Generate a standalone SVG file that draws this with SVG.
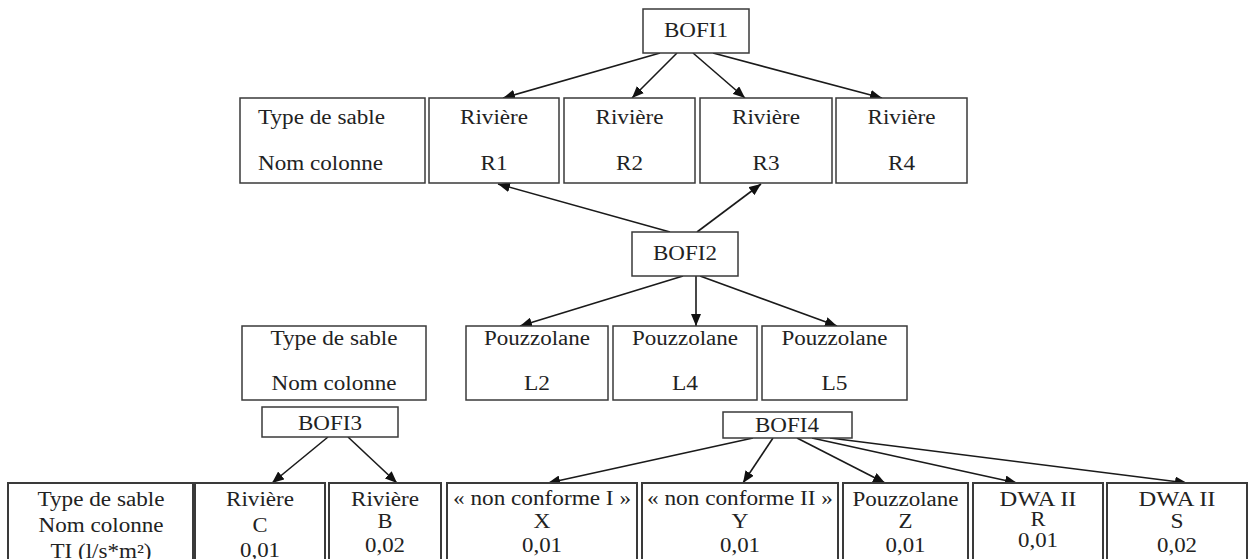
<svg xmlns="http://www.w3.org/2000/svg" width="1251" height="559" viewBox="0 0 1251 559">
<style>
.box{fill:#fff;stroke:#3a3a3a;stroke-width:1.5}
.cell{fill:#fff;stroke:#3a3a3a;stroke-width:2}
text{font-size:20px;fill:#222;text-anchor:middle}
.st{text-anchor:start}
.conn line{stroke:#1a1a1a;stroke-width:1.6;marker-end:url(#ah)}
</style>
<defs>
<marker id="ah" markerUnits="userSpaceOnUse" markerWidth="12" markerHeight="10" refX="12" refY="5" orient="auto">
<path d="M0,0 L12,5 L0,10 z" fill="#111"/>
</marker>
</defs>
<rect width="1251" height="559" fill="#fff"/>

<g id="connectors" class="conn">
<line x1="660" y1="53" x2="503" y2="98"/>
<line x1="677" y1="53" x2="632" y2="98"/>
<line x1="693" y1="53" x2="745" y2="98"/>
<line x1="713" y1="53" x2="882" y2="98"/>
<line x1="670" y1="232" x2="498" y2="184"/>
<line x1="697" y1="232" x2="761" y2="184"/>
<line x1="683" y1="276" x2="520" y2="326"/>
<line x1="696" y1="276" x2="696" y2="326"/>
<line x1="700" y1="276" x2="837" y2="326"/>
<line x1="328" y1="437" x2="272" y2="483"/>
<line x1="348" y1="437" x2="397" y2="483"/>
<line x1="753" y1="438" x2="548" y2="483"/>
<line x1="773" y1="438" x2="743" y2="483"/>
<line x1="797" y1="438" x2="885" y2="483"/>
<line x1="812" y1="438" x2="1017" y2="483"/>
<line x1="830" y1="438" x2="1187" y2="483"/>
</g>

<g font-family="Liberation Serif">
<g id="bofi1"><rect class="box" x="643" y="9" width="106" height="44"/><text x="696" y="37" textLength="64" lengthAdjust="spacingAndGlyphs">BOFI1</text></g>

<g id="legend1"><rect class="box" x="240" y="98" width="185" height="85"/>
<text class="st" x="258" y="124" textLength="127" lengthAdjust="spacingAndGlyphs">Type de sable</text>
<text class="st" x="258" y="170" textLength="125" lengthAdjust="spacingAndGlyphs">Nom colonne</text></g>
<g id="r1"><rect class="box" x="429" y="98" width="130" height="85"/>
<text x="494" y="124" textLength="68" lengthAdjust="spacingAndGlyphs">Rivière</text>
<text x="494" y="170" textLength="27" lengthAdjust="spacingAndGlyphs">R1</text></g>
<g id="r2"><rect class="box" x="564" y="98" width="131" height="85"/>
<text x="629.5" y="124" textLength="68" lengthAdjust="spacingAndGlyphs">Rivière</text>
<text x="629.5" y="170" textLength="27" lengthAdjust="spacingAndGlyphs">R2</text></g>
<g id="r3"><rect class="box" x="700" y="98" width="132" height="85"/>
<text x="766" y="124" textLength="68" lengthAdjust="spacingAndGlyphs">Rivière</text>
<text x="766" y="170" textLength="27" lengthAdjust="spacingAndGlyphs">R3</text></g>
<g id="r4"><rect class="box" x="836" y="98" width="131" height="85"/>
<text x="901.5" y="124" textLength="68" lengthAdjust="spacingAndGlyphs">Rivière</text>
<text x="901.5" y="170" textLength="27" lengthAdjust="spacingAndGlyphs">R4</text></g>

<g id="bofi2"><rect class="box" x="632" y="232" width="106" height="44"/><text x="685" y="260" textLength="64" lengthAdjust="spacingAndGlyphs">BOFI2</text></g>

<g id="legend2"><rect class="box" x="242" y="326" width="184" height="74"/>
<text x="334" y="345" textLength="127" lengthAdjust="spacingAndGlyphs">Type de sable</text>
<text x="334" y="390" textLength="125" lengthAdjust="spacingAndGlyphs">Nom colonne</text></g>
<g id="l2"><rect class="box" x="466" y="326" width="142" height="74"/>
<text x="537" y="345" textLength="106" lengthAdjust="spacingAndGlyphs">Pouzzolane</text>
<text x="537" y="390" textLength="26" lengthAdjust="spacingAndGlyphs">L2</text></g>
<g id="l4"><rect class="box" x="613" y="326" width="144" height="74"/>
<text x="685" y="345" textLength="106" lengthAdjust="spacingAndGlyphs">Pouzzolane</text>
<text x="685" y="390" textLength="26" lengthAdjust="spacingAndGlyphs">L4</text></g>
<g id="l5"><rect class="box" x="762" y="326" width="145" height="74"/>
<text x="834.5" y="345" textLength="106" lengthAdjust="spacingAndGlyphs">Pouzzolane</text>
<text x="834.5" y="390" textLength="26" lengthAdjust="spacingAndGlyphs">L5</text></g>

<g id="bofi3"><rect class="box" x="262" y="407" width="136" height="30"/><text x="330" y="430" textLength="64" lengthAdjust="spacingAndGlyphs">BOFI3</text></g>
<g id="bofi4"><rect class="box" x="723" y="412" width="129" height="26"/><text x="787" y="432" textLength="64" lengthAdjust="spacingAndGlyphs">BOFI4</text></g>

<g id="legend3"><rect class="cell" x="8" y="483" width="185" height="90"/>
<text x="101" y="506" textLength="127" lengthAdjust="spacingAndGlyphs">Type de sable</text>
<text x="101" y="532" textLength="125" lengthAdjust="spacingAndGlyphs">Nom colonne</text>
<text x="101" y="558" textLength="101" lengthAdjust="spacingAndGlyphs">TI (l/s*m²)</text></g>
<g id="c"><rect class="cell" x="195" y="483" width="130" height="90"/>
<text x="260" y="506" textLength="68" lengthAdjust="spacingAndGlyphs">Rivière</text>
<text x="260" y="532" textLength="15" lengthAdjust="spacingAndGlyphs">C</text>
<text x="260" y="557" textLength="40" lengthAdjust="spacingAndGlyphs">0,01</text></g>
<g id="b"><rect class="cell" x="329" y="483" width="112" height="90"/>
<text x="385" y="506" textLength="68" lengthAdjust="spacingAndGlyphs">Rivière</text>
<text x="385" y="528" textLength="15" lengthAdjust="spacingAndGlyphs">B</text>
<text x="385" y="552" textLength="40" lengthAdjust="spacingAndGlyphs">0,02</text></g>
<g id="x"><rect class="cell" x="447" y="483" width="190" height="90"/>
<text x="542" y="505" textLength="178" lengthAdjust="spacingAndGlyphs">« non conforme I »</text>
<text x="542" y="528" textLength="17" lengthAdjust="spacingAndGlyphs">X</text>
<text x="542" y="552" textLength="40" lengthAdjust="spacingAndGlyphs">0,01</text></g>
<g id="y"><rect class="cell" x="642" y="483" width="196" height="90"/>
<text x="740" y="505" textLength="186" lengthAdjust="spacingAndGlyphs">« non conforme II »</text>
<text x="740" y="528" textLength="17" lengthAdjust="spacingAndGlyphs">Y</text>
<text x="740" y="552" textLength="40" lengthAdjust="spacingAndGlyphs">0,01</text></g>
<g id="z"><rect class="cell" x="843" y="483" width="125" height="90"/>
<text x="905.5" y="506" textLength="106" lengthAdjust="spacingAndGlyphs">Pouzzolane</text>
<text x="905.5" y="528" textLength="14" lengthAdjust="spacingAndGlyphs">Z</text>
<text x="905.5" y="552" textLength="40" lengthAdjust="spacingAndGlyphs">0,01</text></g>
<g id="r"><rect class="cell" x="973" y="483" width="130" height="90"/>
<text x="1038" y="506" textLength="77" lengthAdjust="spacingAndGlyphs">DWA II</text>
<text x="1038" y="526" textLength="15" lengthAdjust="spacingAndGlyphs">R</text>
<text x="1038" y="547" textLength="40" lengthAdjust="spacingAndGlyphs">0,01</text></g>
<g id="s"><rect class="cell" x="1107" y="483" width="140" height="90"/>
<text x="1177" y="506" textLength="77" lengthAdjust="spacingAndGlyphs">DWA II</text>
<text x="1177" y="528" textLength="13" lengthAdjust="spacingAndGlyphs">S</text>
<text x="1177" y="552" textLength="40" lengthAdjust="spacingAndGlyphs">0,02</text></g>
</g>
</svg>
